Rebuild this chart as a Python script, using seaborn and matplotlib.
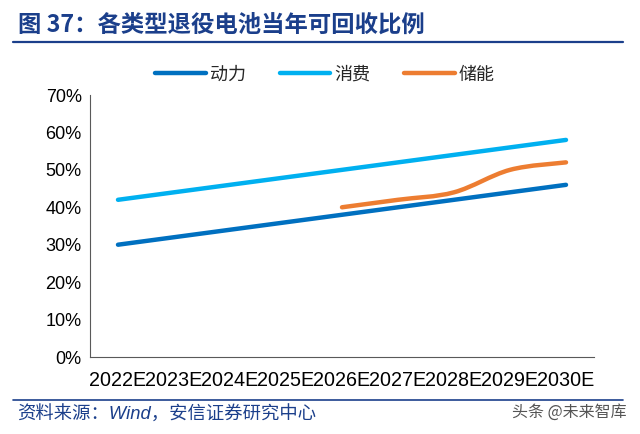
import numpy as np
import pandas as pd
import seaborn as sns
import matplotlib
matplotlib.use("Agg")
import matplotlib.pyplot as plt
from matplotlib.path import Path
from matplotlib.patches import PathPatch
from matplotlib.lines import Line2D

years = ["2022E", "2023E", "2024E", "2025E", "2026E", "2027E", "2028E", "2029E", "2030E"]
power = [0.30, 0.32, 0.34, 0.36, 0.38, 0.40, 0.42, 0.44, 0.46]
consumer = [0.42, 0.44, 0.46, 0.48, 0.50, 0.52, 0.54, 0.56, 0.58]
storage_years = ["2026E", "2027E", "2028E", "2029E", "2030E"]
storage = [0.40, 0.42, 0.44, 0.50, 0.52]
series_names = ["动力", "消费", "储能"]
colors = ["#0070C0", "#00B0F0", "#ED7D31"]
yticks = [0, 0.1, 0.2, 0.3, 0.4, 0.5, 0.6, 0.7]

sns.set_theme(style="white")
plt.rcParams['font.family'] = ['Liberation Sans', 'Noto Sans CJK SC', 'DejaVu Sans']

fig = plt.figure(figsize=(6.4, 4.34), dpi=100)
ax = fig.add_axes([90/640, 1-357/434, (594-90)/640, (357-95)/434])

xpos = {y: i for i, y in enumerate(years)}
df = pd.DataFrame({"x": list(range(len(years))) * 2,
                   "y": power + consumer,
                   "s": [series_names[0]] * len(years) + [series_names[1]] * len(years)})
sns.lineplot(data=df, x="x", y="y", hue="s", palette=colors[:2], linewidth=3.2,
             ax=ax, legend=False, solid_capstyle="round")

# smoothed storage line (Catmull-Rom style Bezier through data points)
sx = np.array([xpos[y] for y in storage_years], dtype=float)
sy = np.array(storage, dtype=float)
pts = np.column_stack([sx, sy])
verts = [tuple(pts[0])]
codes = [Path.MOVETO]
n = len(pts)
for i in range(n - 1):
    p0 = pts[i - 1] if i > 0 else pts[i]
    p1 = pts[i]
    p2 = pts[i + 1]
    p3 = pts[i + 2] if i + 2 < n else pts[i + 1]
    c1 = p1 + (p2 - p0) / 6.0
    c2 = p2 - (p3 - p1) / 6.0
    verts += [tuple(c1), tuple(c2), tuple(p2)]
    codes += [Path.CURVE4] * 3
patch = PathPatch(Path(verts, codes), facecolor="none", edgecolor=colors[2],
                  linewidth=3.2, capstyle="round", joinstyle="round")
ax.add_patch(patch)

ax.set_xlim(-0.5, len(years) - 0.5)
ax.set_ylim(0, 0.7)
ax.set_yticks(yticks)
ax.set_yticklabels([f"{int(round(v*100))}%" for v in yticks], fontsize=13, color="#000000")
ax.set_xticks(range(len(years)))
ax.set_xticklabels(years, fontsize=14.2, color="#000000")
ax.set_xticks(np.arange(-0.5, len(years), 1.0), minor=True)
ax.tick_params(axis="x", which="major", length=0, pad=10)
ax.tick_params(axis="x", which="minor", direction="in", length=4, width=0.8, color="#595959")
ax.tick_params(axis="y", which="major", direction="in", length=4, width=0.8, color="#595959", pad=6)
ax.set_xlabel("")
ax.set_ylabel("")
for side in ["top", "right"]:
    ax.spines[side].set_visible(False)
for side in ["left", "bottom"]:
    ax.spines[side].set_color("#595959")
    ax.spines[side].set_linewidth(0.8)
ax.grid(False)

handles = [Line2D([0], [0], color=c, linewidth=3.2, solid_capstyle="round") for c in colors]
fig.legend(handles, series_names, loc="center", bbox_to_anchor=(325/640, 1-75/434), ncol=3,
           frameon=False, fontsize=13, handlelength=2.8, columnspacing=1.9, handletextpad=0.2)

title_color = "#1B3F8B"
fig.text(18/640, 1-25/434, "图 37：各类型退役电池当年可回收比例", fontsize=16.8, fontweight="bold",
         color=title_color, ha="left", va="center",
         family=['Noto Sans CJK SC', 'DejaVu Sans'])
fig.add_artist(Line2D([13/640, 623/640], [1-42/434, 1-42/434], color=title_color, linewidth=1.6))
fig.add_artist(Line2D([13/640, 623/640], [1-400/434, 1-400/434], color=title_color, linewidth=1.2))
fig.text(17/640, 1-415/434, "资料来源：Wind，安信证券研究中心", fontsize=13.2, style="italic",
         color=title_color, ha="left", va="center")
fig.text(627/640, 1-412/434, "头条 @未来智库", fontsize=11.5, color="#555555", ha="right", va="center",
         family=['Noto Sans CJK SC', 'DejaVu Sans'])

fig.savefig("out.png", dpi=100)
